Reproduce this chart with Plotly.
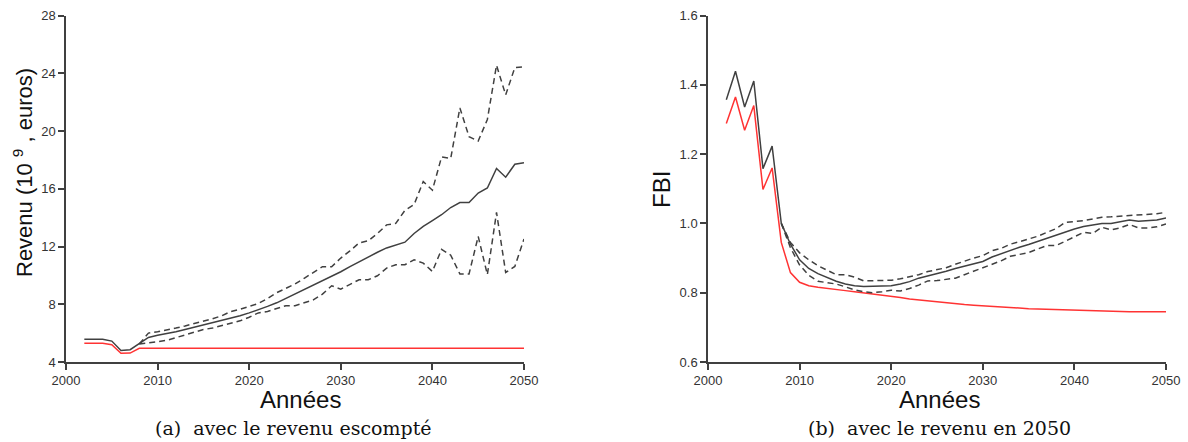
import plotly.graph_objects as go

# ---------------- data ----------------
years = list(range(2002, 2051))
years_ci = list(range(2008, 2051))

# (a) revenue, discounted (10^9 euros)
rev_mean = [5.58, 5.58, 5.58, 5.45, 4.80, 4.85, 5.25, 5.70, 5.85, 5.95,
            6.10, 6.25, 6.40, 6.55, 6.70, 6.90, 7.05, 7.20, 7.40, 7.60,
            7.85, 8.10, 8.40, 8.75, 9.05, 9.30, 9.60, 9.95, 10.25, 10.60,
            10.95, 11.30, 11.60, 11.90, 12.10, 12.30, 12.90, 13.40, 13.80, 14.20,
            14.70, 15.05, 15.05, 15.70, 16.05, 17.40, 16.80, 17.70, 17.80]
rev_upper = [5.25, 6.00, 6.10, 6.20, 6.35, 6.50, 6.65, 6.80, 7.00, 7.20,
             7.50, 7.65, 7.85, 8.05, 8.40, 8.80, 9.10, 9.40, 9.80, 10.20,
             10.60, 10.60, 11.20, 11.70, 12.25, 12.40, 12.90, 13.50, 13.60, 14.50,
             14.90, 16.50, 15.90, 18.20, 18.10, 21.60, 19.60, 19.30, 20.80, 24.55,
             22.50, 24.40, 24.45]
rev_lower = [5.25, 5.30, 5.40, 5.50, 5.70, 5.85, 6.05, 6.25, 6.35, 6.50,
             6.70, 6.85, 7.10, 7.40, 7.50, 7.70, 7.90, 7.90, 8.10, 8.30,
             8.70, 9.28, 9.05, 9.40, 9.70, 9.70, 9.97, 10.50, 10.74, 10.74,
             11.08, 10.85, 10.27, 11.80, 11.40, 10.10, 10.10, 12.70, 10.05, 14.36,
             10.20, 10.62, 12.52]
rev_ref = [5.30, 5.30, 5.30, 5.20, 4.60, 4.62, 4.95] + [4.95] * 42

# (b) FBI, revenue in 2050
fbi_mean = [1.357, 1.439, 1.336, 1.411, 1.158, 1.223, 1.000, 0.940, 0.895, 0.870,
            0.855, 0.843, 0.833, 0.825, 0.820, 0.818, 0.818, 0.820, 0.820, 0.825,
            0.832, 0.842, 0.848, 0.855, 0.862, 0.870, 0.877, 0.883, 0.890, 0.903,
            0.913, 0.923, 0.931, 0.939, 0.948, 0.958, 0.965, 0.975, 0.984, 0.991,
            0.996, 1.000, 1.000, 1.005, 1.010, 1.006, 1.008, 1.010, 1.016]
fbi_upper = [1.000, 0.945, 0.915, 0.895, 0.878, 0.866, 0.852, 0.852, 0.845, 0.834,
             0.834, 0.835, 0.836, 0.840, 0.845, 0.852, 0.861, 0.867, 0.872, 0.882,
             0.892, 0.900, 0.907, 0.921, 0.928, 0.940, 0.947, 0.955, 0.963, 0.974,
             0.985, 1.003, 1.005, 1.008, 1.013, 1.018, 1.019, 1.021, 1.022, 1.023,
             1.025, 1.028, 1.032]
fbi_lower = [1.000, 0.930, 0.880, 0.850, 0.833, 0.830, 0.825, 0.817, 0.808, 0.803,
             0.800, 0.803, 0.807, 0.805, 0.812, 0.822, 0.834, 0.835, 0.838, 0.842,
             0.852, 0.862, 0.871, 0.882, 0.892, 0.905, 0.910, 0.916, 0.926, 0.936,
             0.936, 0.948, 0.962, 0.974, 0.971, 0.989, 0.981, 0.987, 0.997, 0.987,
             0.987, 0.990, 0.998]
fbi_ref = [1.288, 1.365, 1.269, 1.340, 1.098, 1.160, 0.945, 0.858, 0.830, 0.820,
           0.816, 0.812, 0.809, 0.806, 0.803, 0.800, 0.796, 0.792, 0.789, 0.786,
           0.782, 0.779, 0.776, 0.774, 0.771, 0.769, 0.766, 0.764, 0.762, 0.760,
           0.759, 0.757, 0.756, 0.754, 0.753, 0.752, 0.751, 0.750, 0.750, 0.749,
           0.748, 0.747, 0.746, 0.745, 0.745, 0.745, 0.745, 0.745, 0.745]

x_ticks = [2000, 2010, 2020, 2030, 2040, 2050]
rev_ticks = [4, 8, 12, 16, 20, 24, 28]
fbi_ticks = [0.6, 0.8, 1.0, 1.2, 1.4, 1.6]

# ---------------- styling ----------------
GREY = "#404040"
RED = "#ff3333"
SANS = "Liberation Sans"
TICK_FONT = dict(family=SANS, size=13, color="#333333")
TITLE_FONT = dict(family=SANS, size=24, color="#111111")
CAP_FONT = dict(family="DejaVu Serif", size=19, color="#111111")
DASH = "6px,4px"

fig = go.Figure()


def add_panel(xa, ya, mean, upper, lower, ref):
    fig.add_trace(go.Scatter(x=years, y=ref, mode="lines", xaxis=xa, yaxis=ya,
                             line=dict(color=RED, width=1.5)))
    fig.add_trace(go.Scatter(x=years_ci, y=upper, mode="lines", xaxis=xa, yaxis=ya,
                             line=dict(color=GREY, width=1.5, dash=DASH)))
    fig.add_trace(go.Scatter(x=years_ci, y=lower, mode="lines", xaxis=xa, yaxis=ya,
                             line=dict(color=GREY, width=1.5, dash=DASH)))
    fig.add_trace(go.Scatter(x=years, y=mean, mode="lines", xaxis=xa, yaxis=ya,
                             line=dict(color=GREY, width=1.5)))


add_panel("x", "y", rev_mean, rev_upper, rev_lower, rev_ref)
add_panel("x2", "y2", fbi_mean, fbi_upper, fbi_lower, fbi_ref)

W, H = 1188, 442
Y_DOM = [(H - 362) / H, (H - 15.5) / H]

axis_common = dict(showline=True, linecolor=GREY, linewidth=1.5, ticks="outside",
                   ticklen=6, tickwidth=1.5, tickcolor=GREY, showgrid=False,
                   zeroline=False, tickfont=TICK_FONT, fixedrange=True,
                   automargin=False)

fig.update_layout(
    width=W, height=H,
    margin=dict(l=0, r=0, t=0, b=0, autoexpand=False),
    paper_bgcolor="white", plot_bgcolor="white",
    showlegend=False,
    xaxis=dict(domain=[66 / W, 524 / W], range=[2000, 2050], tickvals=x_ticks,
               anchor="y", **axis_common),
    yaxis=dict(domain=Y_DOM, range=[4, 28], tickvals=rev_ticks, anchor="x",
               **axis_common),
    xaxis2=dict(domain=[708 / W, 1166 / W], range=[2000, 2050], tickvals=x_ticks,
                anchor="y2", **axis_common),
    yaxis2=dict(domain=Y_DOM, range=[0.6, 1.6], tickvals=fbi_ticks,
                tickformat=".1f", anchor="x2", **axis_common),
)

annotations = [
    dict(text="Années", x=300 / W, y=1 - 399 / H, font=TITLE_FONT),
    dict(text="Années", x=940 / W, y=1 - 399 / H, font=TITLE_FONT),
    dict(text="Revenu (10 <sup>9</sup> , euros)", x=23 / W, y=1 - 173 / H,
         textangle=-90, font=dict(TITLE_FONT, size=22)),
    dict(text="FBI", x=661 / W, y=1 - 190 / H, textangle=-90, font=TITLE_FONT),
    dict(text="(a)  avec le revenu escompté", x=293 / W, y=1 - 428 / H, font=CAP_FONT),
    dict(text="(b)  avec le revenu en 2050", x=940 / W, y=1 - 428 / H, font=CAP_FONT),
]
for a in annotations:
    a.update(xref="paper", yref="paper", showarrow=False,
             xanchor="center", yanchor="middle")
fig.update_layout(annotations=annotations)

fig.write_html("out.html", config={"displayModeBar": False})
